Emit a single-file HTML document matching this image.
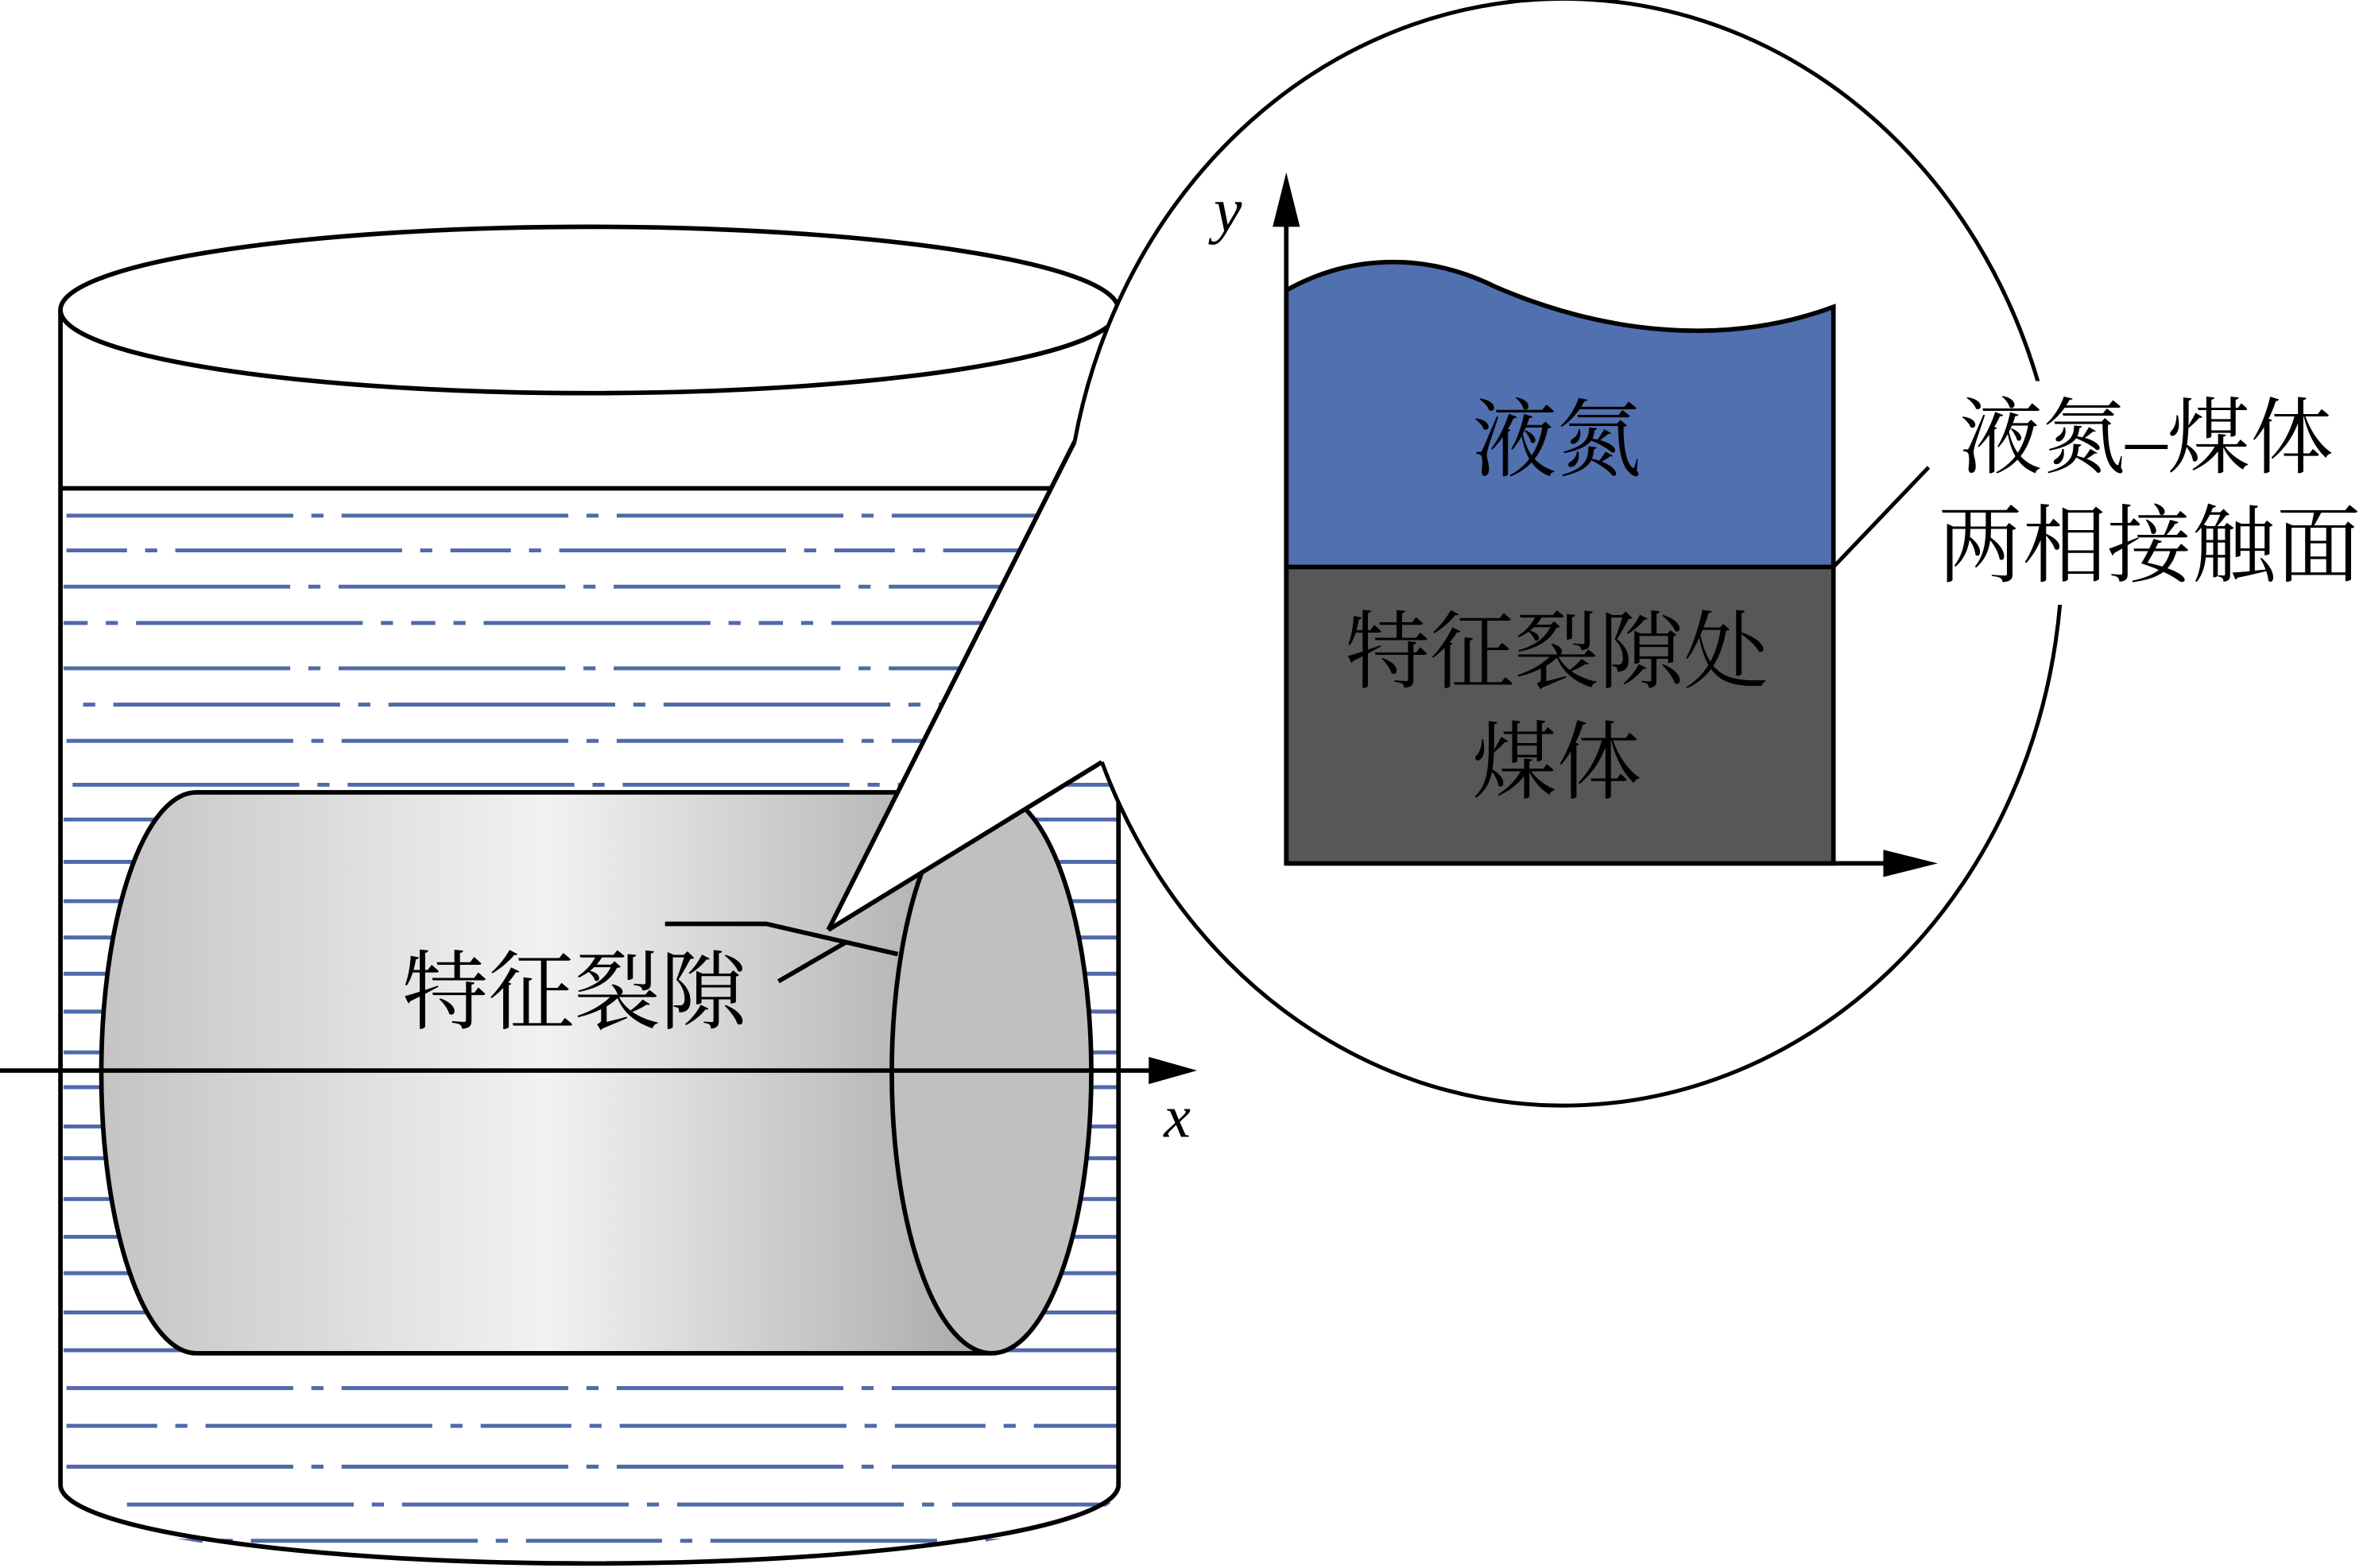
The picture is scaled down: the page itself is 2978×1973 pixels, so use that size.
<!DOCTYPE html>
<html><head><meta charset="utf-8"><style>html,body{margin:0;padding:0;background:#fff}svg{display:block}</style></head>
<body>
<svg width="2978" height="1973" viewBox="0 0 1566 1037" preserveAspectRatio="none" xmlns="http://www.w3.org/2000/svg" font-family="'Liberation Serif','Noto Serif CJK SC',serif">
<defs>
<clipPath id="tank"><path d="M40,205 V985 A350,52 0 0 0 740,985 V205 Z"/></clipPath>
<linearGradient id="cg" x1="0" x2="1" y1="0" y2="0">
<stop offset="0" stop-color="#c4c4c4"/><stop offset="0.5" stop-color="#f2f2f2"/><stop offset="1" stop-color="#a9a9a9"/>
</linearGradient>
</defs>
<rect width="1566" height="1037" fill="#fff"/>
<g clip-path="url(#tank)" stroke="#4f6aaa" stroke-width="2.6">
<line x1="44" x2="740" y1="341" y2="341" stroke-dasharray="150 12 8 12"/>
<line x1="44" x2="740" y1="364" y2="364" stroke-dasharray="40 12 8 12 150 12 8 12" />
<line x1="42" x2="740" y1="388" y2="388" stroke-dasharray="150 12 8 12"/>
<line x1="42" x2="740" y1="412" y2="412" stroke-dasharray="16 12 8 12 150 12 8 12"/>
<line x1="42" x2="740" y1="442" y2="442" stroke-dasharray="150 12 8 12"/>
<line x1="55" x2="740" y1="466" y2="466" stroke-dasharray="8 12 150 12"/>
<line x1="44" x2="740" y1="490" y2="490" stroke-dasharray="150 12 8 12"/>
<line x1="48" x2="740" y1="519" y2="519" stroke-dasharray="150 12 8 12"/>
<g>
<line x1="42" x2="740" y1="542" y2="542"/><line x1="42" x2="740" y1="570" y2="570"/>
<line x1="42" x2="740" y1="596" y2="596"/><line x1="42" x2="740" y1="620" y2="620"/>
<line x1="42" x2="740" y1="644" y2="644"/><line x1="42" x2="740" y1="669" y2="669"/>
<line x1="42" x2="740" y1="696" y2="696"/><line x1="42" x2="740" y1="719" y2="719"/>
<line x1="42" x2="740" y1="745" y2="745"/><line x1="42" x2="740" y1="766" y2="766"/>
<line x1="42" x2="740" y1="793" y2="793"/><line x1="42" x2="740" y1="818" y2="818"/>
<line x1="42" x2="740" y1="842" y2="842"/><line x1="42" x2="740" y1="868" y2="868"/>
<line x1="42" x2="740" y1="893" y2="893"/>
</g>
<line x1="44" x2="740" y1="918" y2="918" stroke-dasharray="150 12 8 12"/>
<line x1="44" x2="740" y1="943" y2="943" stroke-dasharray="60 12 8 12 150 12 8 12"/>
<line x1="44" x2="740" y1="970" y2="970" stroke-dasharray="150 12 8 12"/>
<line x1="84" x2="740" y1="995" y2="995" stroke-dasharray="150 12 8 12"/>
<line x1="44" x2="740" y1="1019" y2="1019" stroke-dasharray="90 12 8 12 150 12 8 12"/>
</g>
<g fill="none" stroke="#000" stroke-width="3">
<ellipse cx="390" cy="205" rx="350" ry="55"/>
<path d="M40,205 V982 A350,52 0 0 0 740,982 V205"/>
<line x1="40" x2="700" y1="323" y2="323"/>
</g>
<path d="M130,524 H655 V895 H130 A63,185.5 0 0 1 130,524 Z" fill="url(#cg)" stroke="#000" stroke-width="3"/>
<ellipse cx="656" cy="709.5" rx="66" ry="185.5" fill="#c0c0c0" stroke="#000" stroke-width="3"/>
<line x1="0" x2="768" y1="708" y2="708" stroke="#000" stroke-width="3"/>
<polygon points="792,708 760,699 760,717" fill="#000"/>
<text x="770" y="752" font-size="40" font-style="italic">x</text>
<ellipse cx="1034" cy="365" rx="330" ry="366" fill="#fff"/>
<polygon points="711,292 548,615 729,504" fill="#fff"/>
<path d="M729,504 A330,366 0 1 0 711,292" fill="none" stroke="#000" stroke-width="2.6"/>
<rect x="1270" y="252" width="296" height="148" fill="#fff"/>
<g stroke="#000" stroke-width="3" fill="none">
<line x1="711" y1="292" x2="548" y2="615"/>
<line x1="548" y1="615" x2="729" y2="504"/>
<line x1="515" y1="649" x2="560" y2="623"/>
<polyline points="440,611 507,611 594,631"/>
</g>
<text x="380" y="657" font-size="57" text-anchor="middle" dominant-baseline="central">特征裂隙</text>
<path d="M851,192 C890,170 940,165 990,190 C1060,220 1140,230 1213,203 V375 H851 Z" fill="#5170b0" stroke="#000" stroke-width="3"/>
<rect x="851" y="375" width="362" height="196" fill="#575757" stroke="#000" stroke-width="3"/>
<line x1="851" y1="572" x2="851" y2="140" stroke="#000" stroke-width="3"/>
<polygon points="851,114 842,150 860,150" fill="#000"/>
<line x1="851" y1="571" x2="1255" y2="571" stroke="#000" stroke-width="3"/>
<polygon points="1282,571 1246,562 1246,580" fill="#000"/>
<text x="803" y="153" font-size="42" font-style="italic">y</text>
<text x="1030" y="292" font-size="56" text-anchor="middle" dominant-baseline="central">液氮</text>
<text x="1030" y="432" font-size="56" text-anchor="middle" dominant-baseline="central">特征裂隙处</text>
<text x="1030" y="505" font-size="56" text-anchor="middle" dominant-baseline="central">煤体</text>
<line x1="1213" y1="375" x2="1276" y2="309" stroke="#000" stroke-width="2.6"/>
<text x="1420" y="290" font-size="55" text-anchor="middle" dominant-baseline="central">液氮–煤体</text>
<text x="1422" y="362" font-size="56" text-anchor="middle" dominant-baseline="central">两相接触面</text>
</svg>
</body></html>
